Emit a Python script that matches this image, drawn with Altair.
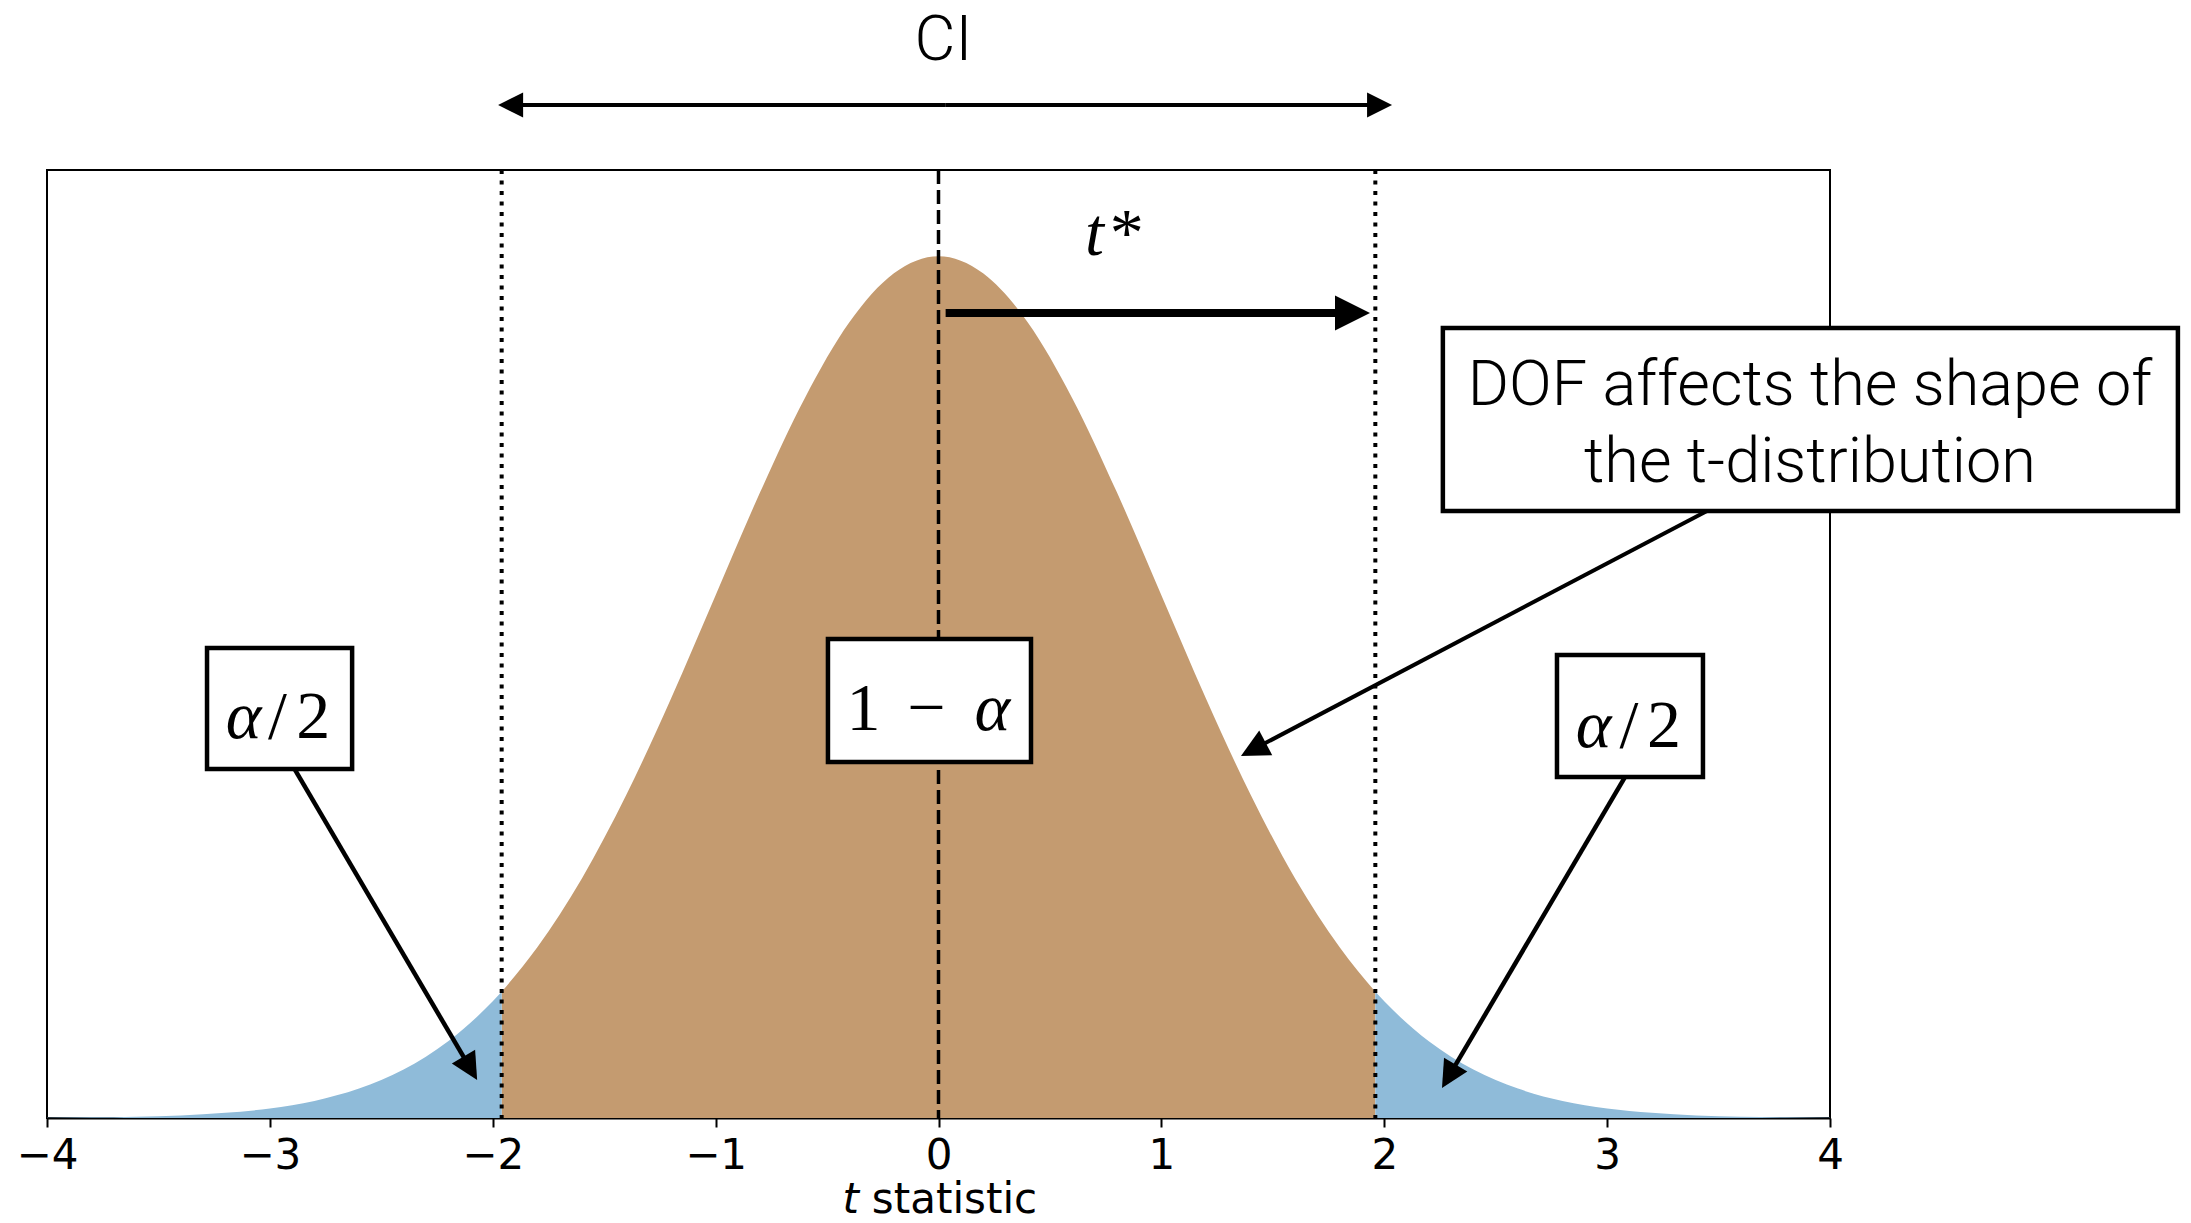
import math
import altair as alt
import pandas as pd

# ---------------- data ----------------
t_values = [-4.0, -3.8, -3.6, -3.4, -3.2, -3.0, -2.8, -2.6, -2.4, -2.2, -2.0, -1.96,
            -1.8, -1.6, -1.4, -1.2, -1.0, -0.8, -0.6, -0.4, -0.2, 0.0,
            0.2, 0.4, 0.6, 0.8, 1.0, 1.2, 1.4, 1.6, 1.8, 1.96, 2.0,
            2.2, 2.4, 2.6, 2.8, 3.0, 3.2, 3.4, 3.6, 3.8, 4.0]
density = [0.0001, 0.0003, 0.0006, 0.0012, 0.0024, 0.0044, 0.0079, 0.0136, 0.0224, 0.0355, 0.0540, 0.0584,
           0.0790, 0.1109, 0.1497, 0.1942, 0.2420, 0.2897, 0.3332, 0.3683, 0.3910, 0.3989,
           0.3910, 0.3683, 0.3332, 0.2897, 0.2420, 0.1942, 0.1497, 0.1109, 0.0790, 0.0584, 0.0540,
           0.0355, 0.0224, 0.0136, 0.0079, 0.0044, 0.0024, 0.0012, 0.0006, 0.0003, 0.0001]
critical_values = [-1.96, 1.96]
center_value = [0.0]
tick_values = [-4, -3, -2, -1, 0, 1, 2, 3, 4]

label_ci = "CI"
label_dof = ["DOF affects the shape of", "the t-distribution"]
label_alpha = "α"
label_slash = "/"
label_two = "2"
label_one = "1"
label_minus = "−"
label_t = "t"
label_star = "*"
label_stat = "statistic"

# ---------------- layout / styling ----------------
W, H = 1783, 948
XDOM = [-4, 4]
YDOM = [0, 0.4388]
SX = W / (XDOM[1] - XDOM[0])
SY = H / (YDOM[1] - YDOM[0])
BLUE = "#8fbbd9"
BROWN = "#c49b70"
SANS = "Roboto"
SERIF = "Liberation Serif"
SERIF_SIZE = 68
HEAD_PATH = "M0,0L-1,-0.5L-1,0.5Z"

xs = alt.Scale(domain=XDOM, nice=False, zero=False)
ys = alt.Scale(domain=YDOM, nice=False, zero=False)
AX = alt.Axis(values=tick_values, format="d", labelFont="DejaVu Sans", labelFontSize=42,
              labelColor="black", tickColor="black", tickWidth=2, tickSize=9,
              domainColor="black", domainWidth=2, labelPadding=8, grid=False,
              labelFlush=False, labelOverlap=False)


def X(f):
    return alt.X(f, type="quantitative", scale=xs, axis=AX, title=None)


def Y(f):
    return alt.Y(f, type="quantitative", scale=ys, axis=None, title=None)


curve = pd.DataFrame({"t": t_values, "d": density})
left = curve[curve.t <= critical_values[0]]
mid = curve[(curve.t >= critical_values[0]) & (curve.t <= critical_values[1])]
right = curve[curve.t >= critical_values[1]]


def area(df, color):
    return alt.Chart(df).mark_area(color=color, interpolate="monotone", opacity=1).encode(
        x=X("t"), y=Y("d"))


areas = area(mid, BROWN) + area(left, BLUE) + area(right, BLUE)

vlines = alt.Chart(pd.DataFrame({"t": critical_values})).mark_rule(
    color="black", strokeWidth=4, strokeDash=[4, 6.5]).encode(x=X("t"))
cline = alt.Chart(pd.DataFrame({"t": center_value})).mark_rule(
    color="black", strokeWidth=3.5, strokeDash=[14, 6]).encode(x=X("t"))

# arrows: (x1, y1, x2 tip, y2 tip, line width, head length px)
arrow_specs = [
    (0.03, 0.4689, -1.976, 0.4689, 4, 25),
    (0.03, 0.4689, 2.035, 0.4689, 4, 25),
    (0.032, 0.3726, 1.936, 0.3726, 8, 35),
    (-2.887, 0.1611, -2.07, 0.0176, 4.5, 27),
    (3.080, 0.1578, 2.259, 0.0139, 4.5, 27),
    (3.448, 0.2810, 1.357, 0.1676, 4, 28),
]
rule_rows, head_rows = [], []
for x1, y1, x2, y2, w, hl in arrow_specs:
    dxp = (x2 - x1) * SX
    dyp = -(y2 - y1) * SY
    L = math.hypot(dxp, dyp)
    ux, uy = dxp / L, dyp / L
    ex = x2 - ux * (hl - 2) / SX
    ey = y2 + uy * (hl - 2) / SY
    rule_rows.append({"x": x1, "y": y1, "x2": ex, "y2": ey, "w": w})
    ang = math.degrees(math.atan2(dyp, dxp)) % 360
    head_rows.append({"x": x2, "y": y2, "angle": ang, "size": (2 * hl) ** 2})

arrow_lines = alt.Chart(pd.DataFrame(rule_rows)).mark_rule(color="black", strokeCap="butt").encode(
    x=X("x"), y=Y("y"), x2=alt.X2("x2"), y2=alt.Y2("y2"),
    strokeWidth=alt.StrokeWidth("w:Q", scale=None))
arrow_heads = alt.Chart(pd.DataFrame(head_rows)).mark_point(
    shape=HEAD_PATH, filled=True, color="black", opacity=1, strokeWidth=0).encode(
    x=X("x"), y=Y("y"), angle=alt.Angle("angle:Q", scale=None), size=alt.Size("size:Q", scale=None))

# boxes
boxes_df = pd.DataFrame([
    {"x": -3.282, "x2": -2.631, "y": 0.1615, "y2": 0.2175},
    {"x": 2.775, "x2": 3.430, "y": 0.1578, "y2": 0.2143},
    {"x": -0.496, "x2": 0.415, "y": 0.1648, "y2": 0.2217},
    {"x": 2.263, "x2": 5.561, "y": 0.2810, "y2": 0.3657},
])
boxes = alt.Chart(boxes_df).mark_rect(fill="white", stroke="black", strokeWidth=4.5).encode(
    x=X("x"), x2=alt.X2("x2"), y=Y("y"), y2=alt.Y2("y2"))


def text_layer(rows, font, size, style="normal", align="center", weight="normal"):
    return alt.Chart(pd.DataFrame(rows)).mark_text(
        font=font, fontSize=size, fontStyle=style, fontWeight=weight, align=align,
        baseline="alphabetic", color="black").encode(x=X("x"), y=Y("y"), text="label:N")


texts = [
    text_layer([{"label": label_ci, "x": 0.022, "y": 0.4897},
                {"label": label_dof[0], "x": 3.91, "y": 0.3300},
                {"label": label_dof[1], "x": 3.91, "y": 0.2944}], SANS, 63, weight=300),
    # italic serif glyphs
    text_layer([{"label": label_alpha, "x": -3.118, "y": 0.1759},
                {"label": label_alpha, "x": 2.939, "y": 0.1717},
                {"label": label_alpha, "x": 0.242, "y": 0.1796},
                {"label": label_t, "x": 0.700, "y": 0.3995}], SERIF, SERIF_SIZE, style="italic"),
    # upright serif glyphs
    text_layer([{"label": label_slash, "x": -2.966, "y": 0.1759},
                {"label": label_two, "x": -2.805, "y": 0.1759},
                {"label": label_slash, "x": 3.098, "y": 0.1717},
                {"label": label_two, "x": 3.255, "y": 0.1717},
                {"label": label_one, "x": -0.337, "y": 0.1796},
                {"label": label_minus, "x": -0.054, "y": 0.1796},
                {"label": label_star, "x": 0.845, "y": 0.3995}], SERIF, SERIF_SIZE),
    text_layer([{"label": label_t, "x": -0.357, "y": -0.0440}], "DejaVu Sans", 42, style="italic", align="right"),
    text_layer([{"label": label_stat, "x": -0.299, "y": -0.0440}], "DejaVu Sans", 42, align="left"),
]

chart = alt.layer(areas, vlines, cline, arrow_lines, boxes, *texts, arrow_heads).properties(
    width=W, height=H,
    autosize=alt.AutoSizeParams(type="none"),
    padding={"left": 47, "top": 170, "right": 361, "bottom": 105},
    background="white",
).configure_view(stroke="black", strokeWidth=2)

chart.save("out.html", embed_options={"renderer": "svg", "actions": False})
